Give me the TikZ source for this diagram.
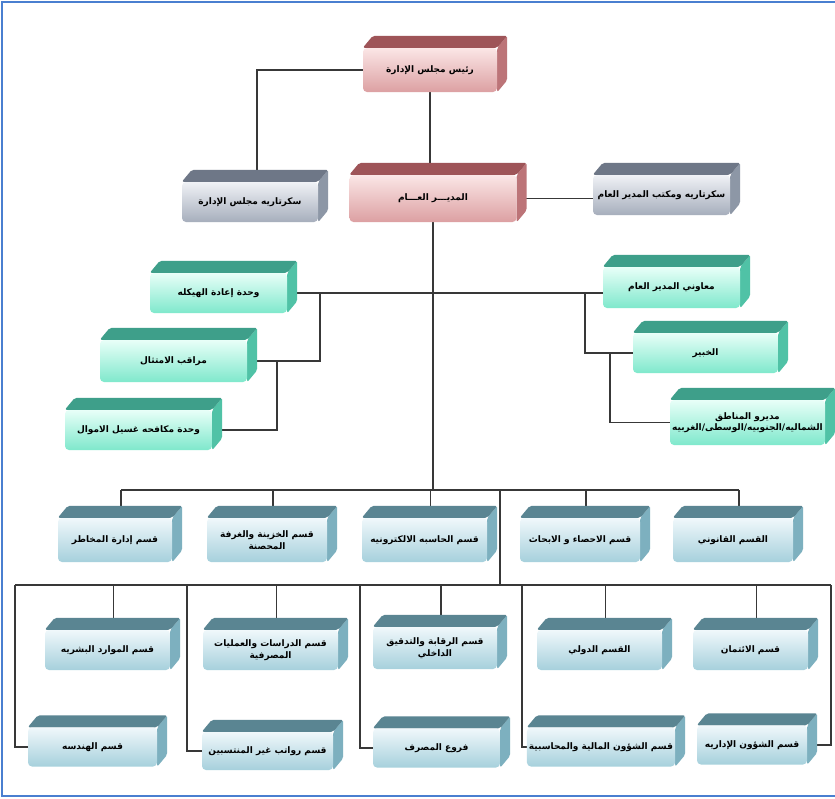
\documentclass[tikz,border=0pt]{standalone}
\usepackage{fontspec}
\newfontfamily\arabicfont[Script=Arabic]{DejaVu Sans}
\TeXXeTstate=1
\usetikzlibrary{calc}
\pgfdeclarelayer{paper}
\pgfdeclarelayer{lines}
\pgfdeclarelayer{faces}
\pgfsetlayers{paper,lines,faces,main}
% pink (chairman, DG)
\definecolor{pinkT}{HTML}{FBE6E6}
\definecolor{pinkB}{HTML}{DCA0A2}
\definecolor{pinkF}{HTML}{9E5458}
\definecolor{pinkS}{HTML}{BC7478}
% grey (secretaries)
\definecolor{greyT}{HTML}{F0F2F6}
\definecolor{greyB}{HTML}{A6AEBC}
\definecolor{greyF}{HTML}{6E7787}
\definecolor{greyS}{HTML}{8D97A6}
% mint (units)
\definecolor{mintT}{HTML}{E8FFF8}
\definecolor{mintB}{HTML}{7FE8CC}
\definecolor{mintF}{HTML}{3E9F8A}
\definecolor{mintS}{HTML}{50C2A6}
% blue (departments)
\definecolor{blueT}{HTML}{F0F8FB}
\definecolor{blueB}{HTML}{A6D0DC}
\definecolor{blueF}{HTML}{5A8592}
\definecolor{blueS}{HTML}{7DB0BF}
\definecolor{framecol}{HTML}{4A7FD0}
\tikzset{
  box/.style={draw=none, rounded corners=4pt, align=center, inner sep=2pt, text=black,
    font=\arabicfont\bfseries\fontsize{9}{11.5}\selectfont},
  conn/.style={draw=black!78, line width=1.2pt},
  frameline/.style={draw=framecol, line width=1.6pt}
}
\newcommand\cube[7]{%
  \node[box, minimum width=#4pt, minimum height=#5pt, top color=#6T, bottom color=#6B] (#1) at (#2,#3) {#7};
  \begin{pgfonlayer}{faces}
    \fill[#6S, rounded corners=2pt] (#1.north east) -- ++(10,-12) -- ($(#1.south east)+(10,-12)$) -- (#1.south east) -- cycle;
    \fill[#6F, rounded corners=2pt] (#1.north west) -- ++(10,-12) -- ($(#1.north east)+(10,-12)$) -- (#1.north east) -- cycle;
  \end{pgfonlayer}
}
\newcommand\RL[1]{\beginR #1\endR}
\begin{document}
\begin{tikzpicture}[x=1pt,y=-1pt]
\useasboundingbox (0,0) rectangle (835,798);
\begin{pgfonlayer}{paper}
\fill[white] (0,0) rectangle (835,798);
\end{pgfonlayer}
\draw[frameline] (835,2) -- (2,2) -- (2,796) -- (835,796);

% top level
\cube{chair}{430}{70}{134}{44}{pink}{\RL{رئيس مجلس الإدارة}}
\cube{secb}{250}{202}{136}{40}{grey}{\RL{سكرتاريه مجلس الإدارة}}
\cube{dg}{433}{198.5}{167}{47}{pink}{\RL{المديـــر العـــام}}
\cube{secd}{661.5}{195}{137}{40}{grey}{\RL{سكرتاريه ومكتب المدير العام}}

% units
\cube{u1}{218.5}{293}{137}{40}{mint}{\RL{وحدة إعادة الهيكله}}
\cube{u2}{173.5}{361}{147}{42}{mint}{\RL{مراقب الامتثال}}
\cube{u3}{138.5}{430}{147}{40}{mint}{\RL{وحدة مكافحه غسيل الاموال}}
\cube{a1}{671.5}{287.5}{137}{41}{mint}{\RL{معاوني المدير العام}}
\cube{a2}{705.5}{353}{145}{40}{mint}{\RL{الخبير}}
\cube{a3}{747.5}{422.5}{155}{45}{mint}{\RL{مديرو المناطق}\\\RL{الشماليه/الجنوبيه/الوسطى/الغربيه}}

% row 1
\cube{r1a}{115}{540}{114}{44}{blue}{\RL{قسم إدارة المخاطر}}
\cube{r1b}{267}{540}{120}{44}{blue}{\RL{قسم الخزينة والغرفة}\\\RL{المحصنة}}
\cube{r1c}{424.5}{540}{125}{44}{blue}{\RL{قسم الحاسبه الالكترونيه}}
\cube{r1d}{580}{540}{120}{44}{blue}{\RL{قسم الاحصاء و الابحاث}}
\cube{r1e}{733}{540}{120}{44}{blue}{\RL{القسم القانوني}}

% row 2
\cube{r2a}{107.5}{650}{125}{40}{blue}{\RL{قسم الموارد البشريه}}
\cube{r2b}{270.5}{650}{135}{40}{blue}{\RL{قسم الدراسات والعمليات}\\\RL{المصرفية}}
\cube{r2c}{435}{648}{124}{42}{blue}{\RL{قسم الرقابة والتدقيق}\\\RL{الداخلي}}
\cube{r2d}{599.5}{650}{125}{40}{blue}{\RL{القسم الدولي}}
\cube{r2e}{750.5}{650}{115}{40}{blue}{\RL{قسم الائتمان}}

% row 3
\cube{r3a}{92.5}{747}{129}{39}{blue}{\RL{قسم الهندسه}}
\cube{r3b}{267.5}{751}{131}{38}{blue}{\RL{قسم رواتب غير المنتسبين}}
\cube{r3c}{436.5}{748}{127}{39}{blue}{\RL{فروع المصرف}}
\cube{r3d}{601}{747}{132}{39}{blue}{\RL{قسم الشؤون المالية والمحاسبية}}
\cube{r3e}{752}{745}{110}{39}{blue}{\RL{قسم الشؤون الإداريه}}

\begin{pgfonlayer}{lines}
  % top
  \coordinate (k1) at ($(secb.north)+(7,0)$);
  \draw[conn] (chair.west) -| (k1);
  \draw[conn] (chair.south) -- (chair.south |- dg.north);
  \draw[conn] (dg.east) -- (secd.west |- dg.east);
  % main trunk
  \coordinate (m0) at (433,490);
  \draw[conn] (dg.south) -- (m0);
  % units
  \draw[conn] (u1.east) -- (a1.west |- u1.east);
  \coordinate (h1) at (320,293);
  \coordinate (h2) at (585,293);
  \coordinate (h3) at (277,361);
  \coordinate (h4) at (610,353);
  \draw[conn] (h1) |- (u2.east);
  \draw[conn] (h3) |- (u3.east);
  \draw[conn] (h2) |- (a2.west);
  \draw[conn] (h4) |- (a3.west);
  % row 1
  \foreach \n in {r1a,r1b,r1c,r1d,r1e}{
    \coordinate (t-\n) at ($(\n.north)+(6,0)$);
    \draw[conn] (t-\n) -- (t-\n |- m0);
  }
  \draw[conn] (t-r1a |- m0) -- (t-r1e |- m0);
  % link row 1 to row 2
  \coordinate (m1) at (500,490);
  \coordinate (m2) at (500,585);
  \draw[conn] (m1) -- (m2);
  % row 2
  \coordinate (b2l) at (15,585);
  \coordinate (b2r) at (831,585);
  \draw[conn] (b2l) -- (b2r);
  \foreach \n in {r2a,r2b,r2c,r2d,r2e}{
    \coordinate (t-\n) at ($(\n.north)+(6,0)$);
    \draw[conn] (t-\n) -- (t-\n |- m2);
  }
  % row 3
  \coordinate (v3b) at (187,585);
  \coordinate (v3c) at (360,585);
  \coordinate (v3d) at (522,585);
  \draw[conn] (b2l) |- (r3a.west);
  \draw[conn] (v3b) |- (r3b.west);
  \draw[conn] (v3c) |- (r3c.west);
  \draw[conn] (v3d) |- (r3d.west);
  \draw[conn] (b2r) |- (r3e.east);
\end{pgfonlayer}
\end{tikzpicture}
\end{document}
